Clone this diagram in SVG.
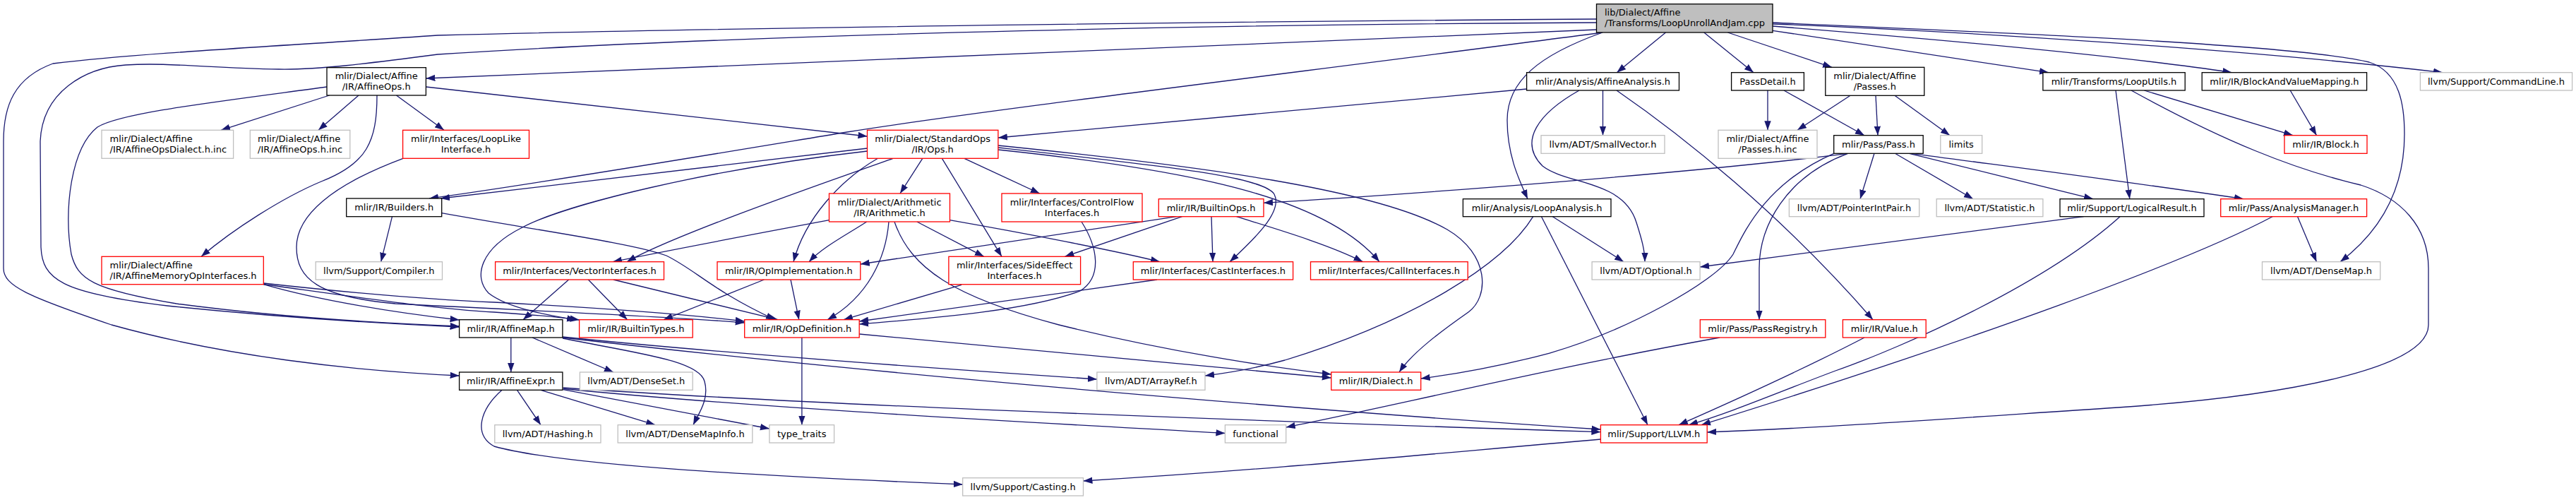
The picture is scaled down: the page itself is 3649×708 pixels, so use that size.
<svg xmlns="http://www.w3.org/2000/svg" width="3649" height="708" viewBox="0 0 3649 708">
<defs>
<marker id="a" markerUnits="userSpaceOnUse" markerWidth="14" markerHeight="10" refX="13" refY="5" orient="auto"><path d="M0,0.3L13,5L0,9.7z" fill="#191970"/></marker>
<style>
rect{stroke-width:1.3}
.b{fill:#fff;stroke:#000}
.r{fill:#fff;stroke:#ff0000}
.g{fill:#fff;stroke:#bfbfbf}
.root{fill:#bfbfbf;stroke:#000}
text{font-family:"DejaVu Sans","Liberation Sans",sans-serif;font-size:13px;fill:#000}
.c{text-anchor:middle}
#edges path{fill:none;stroke:#191970;stroke-width:1.3;marker-end:url(#a)}
</style>
</defs>
<rect width="3649" height="708" fill="#fff"/>
<g id="edges">
<path d="M2261.5,42 C1900,52 1300,78 603.4,111"/>
<path d="M2261.5,32 C1800,34 1100,46 620,77 C520,90 450,99 395,98 C300,97 240,88 178,92 C120,96 60,130 57,200 L58,350 C60,395 85,415 237,433 C420,452 560,459 650.6,463"/>
<path d="M2261.5,27 C1800,30 1100,38 620,50 C400,65 200,75 75,90 C20,110 5,150 5,200 L5,380 C5,405 40,420 158,460 C320,505 500,525 650.6,532"/>
<path d="M2270,46 C1900,95 1400,155 1200,187 C1000,220 750,262 608,281"/>
<path d="M2270,46 C2180,78 2135,115 2135,170 C2135,220 2152,255 2164,281.7"/>
<path d="M2359.5,46 L2290.3,102.7"/>
<path d="M2413.8,46 L2484,102.7"/>
<path d="M2447.4,46 L2595,95.3"/>
<path d="M2511,43.3 L2902,102.7"/>
<path d="M2511,37 C2700,52 3000,78 3161.4,102.7"/>
<path d="M2511,32 C2800,45 3250,62 3356,88 C3400,102 3406,150 3406,190 C3406,265 3375,325 3315,370.7"/>
<path d="M2511,34 C2800,45 3200,72 3460,102.7"/>
<path d="M466.6,135 L313,184.3"/>
<path d="M508,135 L451,184.3"/>
<path d="M561.5,135 L629,184.3"/>
<path d="M603.4,123 L1228.5,193"/>
<path d="M534,135 C534,200 520,232 455,257 C400,280 330,325 285,363.3"/>
<path d="M463,123 C300,145 170,160 138,180 C100,210 90,300 101,360 C110,395 130,410 250,430 C400,450 550,458 650.6,462"/>
<path d="M571,224.3 C470,262 420,305 420,350 C420,395 450,420 560,430 C750,440 950,448 1054.7,457"/>
<path d="M373.3,401 C500,415 600,424 700,428 C850,436 980,446 1054.7,455"/>
<path d="M373.3,402.5 C500,420 620,438 700,442 C760,446 800,450 820.6,453"/>
<path d="M373.3,402.7 C450,425 560,443 650.6,453"/>
<path d="M555.5,306.7 L539.7,370.7"/>
<path d="M625.7,301.7 C760,326 900,345 944,362 C985,382 1010,412 1098,452.7"/>
<path d="M1228.5,210 L624,281"/>
<path d="M1228.5,214 C1000,240 800,290 740,322 C680,352 670,392 692,415 C720,437 780,447 816,453"/>
<path d="M1265,224.3 C1150,265 950,335 888,370.7"/>
<path d="M1243.5,224.3 C1190,255 1140,310 1124,370.7"/>
<path d="M1306.8,224.3 L1275,274"/>
<path d="M1334.4,224.3 L1419,363.3"/>
<path d="M1366,224.3 L1472.8,274"/>
<path d="M1413.9,206 C1700,235 1950,268 2050,325 C2110,360 2110,420 2080,442 C2040,470 2000,500 1982,527"/>
<path d="M1413.9,212 C1700,242 1880,282 1954,370.7"/>
<path d="M1413.9,209 C1650,235 1790,250 1805,275 C1818,300 1775,340 1742,370.7"/>
<path d="M1174.5,311.7 C1050,335 960,352 868,370.7"/>
<path d="M1227.7,314 C1200,332 1165,350 1146,370.7"/>
<path d="M1259,314 C1255,365 1230,420 1172,452.7"/>
<path d="M1267,314 C1290,380 1350,420 1500,460 C1650,497 1800,520 1885.8,530"/>
<path d="M1298.9,314 L1393.8,363.3"/>
<path d="M1345.5,311.7 C1450,330 1580,355 1643,370.7"/>
<path d="M1532,314 C1555,350 1562,392 1530,412 C1450,442 1300,452 1217.2,459"/>
<path d="M1666.6,306.7 L1218.8,374"/>
<path d="M1674.5,306.7 L1508.4,363.3"/>
<path d="M1716,306.7 L1718,370.7"/>
<path d="M1751.6,306.7 C1800,322 1880,345 1930.5,370.7"/>
<path d="M2162.6,126 L1413.9,195"/>
<path d="M2270.5,128 L2270.5,191.7"/>
<path d="M2237,128 C2180,160 2150,200 2185,235 C2220,262 2300,255 2318,315 C2326,340 2330,355 2330,370.7"/>
<path d="M2290,128 C2380,190 2520,300 2653,452.7"/>
<path d="M2171.7,306.7 C2130,375 2000,455 1820,510 C1780,521 1740,528 1707,532"/>
<path d="M2183.5,306.7 L2334,601.7"/>
<path d="M2199.4,306.7 L2300,370.7"/>
<path d="M2504,128 L2504,184.3"/>
<path d="M2527,128 L2641,191.7"/>
<path d="M2621,135.3 L2546,184.3"/>
<path d="M2657,135.3 L2660,191.7"/>
<path d="M2684,135.3 L2762,191.7"/>
<path d="M2617.5,217.3 C2400,245 2000,275 1790,287.3"/>
<path d="M2597.7,217.3 C2500,260 2470,330 2455,360 C2430,400 2300,470 2195,500 C2120,520 2060,530 2012.7,536"/>
<path d="M2617.5,217.3 C2530,250 2492,320 2492,380 L2492,452.7"/>
<path d="M2655,217.3 L2635,281.7"/>
<path d="M2684.5,217.3 L2795,281.7"/>
<path d="M2704.6,217.3 L2965,281.7"/>
<path d="M2708.6,217.3 C2800,230 3000,255 3178,281.7"/>
<path d="M2997,128 L3016.8,281.7"/>
<path d="M3037.3,128 L3248,191.7"/>
<path d="M3019,128 C3150,200 3250,240 3344,262 C3400,280 3440,320 3440,380 L3440,460 C3440,520 3250,560 3000,577 C2800,590 2600,605 2418.2,612"/>
<path d="M3244.2,128 L3281.5,191.7"/>
<path d="M2951.6,306.7 L2408.1,378"/>
<path d="M3003,306.7 C2900,400 2700,490 2600,525 C2520,555 2450,585 2392,601.7"/>
<path d="M3254.6,306.7 L3281.5,370.7"/>
<path d="M3219,306.7 C3100,370 2800,480 2410,601.7"/>
<path d="M2641,478 C2560,520 2450,570 2378,601.7"/>
<path d="M805.6,396 L741,452.7"/>
<path d="M833.3,396 L888.6,452.7"/>
<path d="M868.9,396 L1102,452.7"/>
<path d="M1082.4,396 L940,452.7"/>
<path d="M1120,396 L1131.8,452.7"/>
<path d="M1362,403.3 L1195,452.7"/>
<path d="M1639,396 L1217.2,455"/>
<path d="M1135.9,478 L1135.9,601.7"/>
<path d="M1217.2,473 L1885.8,535"/>
<path d="M723.8,478 L723.8,527"/>
<path d="M754,478 L868.9,527"/>
<path d="M797,479 C900,500 990,510 998,540 C1005,565 990,585 982,601.7"/>
<path d="M797,477 C1000,498 1300,520 1553.9,537"/>
<path d="M797,478 C1200,525 1800,578 2267.4,608"/>
<path d="M732.5,552.3 L766,601.7"/>
<path d="M766,552.3 L928.2,601.7"/>
<path d="M797.7,551.7 L1089.9,607"/>
<path d="M797.7,550.5 C1100,580 1500,600 1735.4,613.5"/>
<path d="M797.7,549 C1200,577 1900,600 2267.4,611.7"/>
<path d="M711,552.3 C680,580 670,615 700,632 C800,660 1100,675 1363.7,686"/>
<path d="M2436,478 C2200,520 1950,580 1821.7,605"/>
<path d="M2267.4,622 C2000,645 1800,665 1534.5,681"/>
</g>
<g id="n-root"><rect class="root" x="2261.5" y="5.7" width="249.5" height="40.3"/><text x="2273" y="22.2">lib/Dialect/Affine</text><text x="2273" y="37.2">/Transforms/LoopUnrollAndJam.cpp</text></g>
<g id="n-affineops"><rect class="b" x="463" y="95.7" width="140.4" height="39.3"/><text class="c" x="533.2" y="112">mlir/Dialect/Affine</text><text class="c" x="533.2" y="127">/IR/AffineOps.h</text></g>
<g id="n-affineopsdialectinc"><rect class="g" x="144" y="184.3" width="186.6" height="40"/><text x="155.5" y="200.8">mlir/Dialect/Affine</text><text x="155.5" y="215.8">/IR/AffineOpsDialect.h.inc</text></g>
<g id="n-affineopsinc"><rect class="g" x="354.3" y="184.3" width="141.5" height="40"/><text x="365" y="200.8">mlir/Dialect/Affine</text><text x="365" y="215.8">/IR/AffineOps.h.inc</text></g>
<g id="n-looplike"><rect class="r" x="570.6" y="184.3" width="178.9" height="40"/><text class="c" x="660" y="200.8">mlir/Interfaces/LoopLike</text><text class="c" x="660" y="215.8">Interface.h</text></g>
<g id="n-ops"><rect class="r" x="1228.5" y="184.3" width="185.4" height="40"/><text class="c" x="1321.2" y="200.8">mlir/Dialect/StandardOps</text><text class="c" x="1321.2" y="215.8">/IR/Ops.h</text></g>
<g id="n-builders"><rect class="b" x="490.7" y="281" width="135" height="25.7"/><text class="c" x="558.2" y="298">mlir/IR/Builders.h</text></g>
<g id="n-arith"><rect class="r" x="1174.5" y="274" width="171" height="40"/><text class="c" x="1260" y="290.5">mlir/Dialect/Arithmetic</text><text class="c" x="1260" y="305.5">/IR/Arithmetic.h</text></g>
<g id="n-controlflow"><rect class="r" x="1419" y="274" width="199" height="40"/><text class="c" x="1518.5" y="290.5">mlir/Interfaces/ControlFlow</text><text class="c" x="1518.5" y="305.5">Interfaces.h</text></g>
<g id="n-builtinops"><rect class="r" x="1641.3" y="281.7" width="148.7" height="25"/><text class="c" x="1715.6" y="298.5">mlir/IR/BuiltinOps.h</text></g>
<g id="n-affineanalysis"><rect class="b" x="2162.6" y="102.7" width="215.9" height="25.3"/><text class="c" x="2270.5" y="119.7">mlir/Analysis/AffineAnalysis.h</text></g>
<g id="n-smallvector"><rect class="g" x="2183" y="191.7" width="175" height="25.6"/><text class="c" x="2270.5" y="208.7">llvm/ADT/SmallVector.h</text></g>
<g id="n-loopanalysis"><rect class="b" x="2072.4" y="281.7" width="209.6" height="25"/><text class="c" x="2177.2" y="298.5">mlir/Analysis/LoopAnalysis.h</text></g>
<g id="n-passdetail"><rect class="b" x="2452.6" y="102.7" width="102.8" height="25.3"/><text class="c" x="2504" y="119.7">PassDetail.h</text></g>
<g id="n-affinepasses"><rect class="b" x="2585.8" y="95.3" width="140" height="40"/><text class="c" x="2655.8" y="111.8">mlir/Dialect/Affine</text><text class="c" x="2655.8" y="126.8">/Passes.h</text></g>
<g id="n-passesinc"><rect class="g" x="2434" y="184.3" width="140" height="40"/><text class="c" x="2504" y="200.8">mlir/Dialect/Affine</text><text class="c" x="2504" y="215.8">/Passes.h.inc</text></g>
<g id="n-pass"><rect class="b" x="2597.7" y="191.7" width="126.5" height="25.6"/><text class="c" x="2661" y="208.7">mlir/Pass/Pass.h</text></g>
<g id="n-limits"><rect class="g" x="2748.8" y="191.7" width="58.9" height="25.6"/><text class="c" x="2778.2" y="208.7">limits</text></g>
<g id="n-looputils"><rect class="b" x="2893.9" y="102.7" width="201.3" height="25.3"/><text class="c" x="2994.5" y="119.7">mlir/Transforms/LoopUtils.h</text></g>
<g id="n-pointerintpair"><rect class="g" x="2534.4" y="281.7" width="184.3" height="25"/><text class="c" x="2626.5" y="298.5">llvm/ADT/PointerIntPair.h</text></g>
<g id="n-statistic"><rect class="g" x="2743.2" y="281.7" width="150.7" height="25"/><text class="c" x="2818.5" y="298.5">llvm/ADT/Statistic.h</text></g>
<g id="n-logicalresult"><rect class="b" x="2918" y="281.7" width="204" height="25"/><text class="c" x="3020" y="298.5">mlir/Support/LogicalResult.h</text></g>
<g id="n-bavm"><rect class="b" x="3119.2" y="102.7" width="233.4" height="25.3"/><text class="c" x="3235.9" y="119.7">mlir/IR/BlockAndValueMapping.h</text></g>
<g id="n-commandline"><rect class="g" x="3428.4" y="102.7" width="215.2" height="25.3"/><text class="c" x="3536" y="119.7">llvm/Support/CommandLine.h</text></g>
<g id="n-block"><rect class="r" x="3236" y="191.7" width="117" height="25.6"/><text class="c" x="3294.5" y="208.7">mlir/IR/Block.h</text></g>
<g id="n-analysismanager"><rect class="r" x="3145.7" y="281.7" width="206.9" height="25"/><text class="c" x="3249.1" y="298.5">mlir/Pass/AnalysisManager.h</text></g>
<g id="n-densemap"><rect class="g" x="3204.5" y="370.7" width="167.2" height="25.3"/><text class="c" x="3288.1" y="387.7">llvm/ADT/DenseMap.h</text></g>
<g id="n-affinememop"><rect class="r" x="144" y="363.3" width="229.3" height="39.4"/><text x="155.5" y="379.8">mlir/Dialect/Affine</text><text x="155.5" y="394.8">/IR/AffineMemoryOpInterfaces.h</text></g>
<g id="n-compiler"><rect class="g" x="447.2" y="370.7" width="179.3" height="25.3"/><text class="c" x="536.8" y="387.7">llvm/Support/Compiler.h</text></g>
<g id="n-vectorinterfaces"><rect class="r" x="701.6" y="370.7" width="238.9" height="25.3"/><text class="c" x="821" y="387.7">mlir/Interfaces/VectorInterfaces.h</text></g>
<g id="n-opimpl"><rect class="r" x="1016" y="370.7" width="202.8" height="25.3"/><text class="c" x="1117.4" y="387.7">mlir/IR/OpImplementation.h</text></g>
<g id="n-affinemap"><rect class="b" x="650.6" y="452.7" width="146.3" height="25.3"/><text class="c" x="723.7" y="469.7">mlir/IR/AffineMap.h</text></g>
<g id="n-builtintypes"><rect class="r" x="820.6" y="452.7" width="160.6" height="25.3"/><text class="c" x="900.9" y="469.7">mlir/IR/BuiltinTypes.h</text></g>
<g id="n-opdefinition"><rect class="r" x="1054.7" y="452.7" width="162.5" height="25.3"/><text class="c" x="1136" y="469.7">mlir/IR/OpDefinition.h</text></g>
<g id="n-affineexpr"><rect class="b" x="650.6" y="527" width="146.3" height="25.3"/><text class="c" x="723.7" y="544">mlir/IR/AffineExpr.h</text></g>
<g id="n-denseset"><rect class="g" x="821.4" y="527" width="159.8" height="25.3"/><text class="c" x="901.3" y="544">llvm/ADT/DenseSet.h</text></g>
<g id="n-hashing"><rect class="g" x="700.8" y="601.7" width="150.2" height="25.3"/><text class="c" x="775.9" y="618.7">llvm/ADT/Hashing.h</text></g>
<g id="n-densemapinfo"><rect class="g" x="875.2" y="601.7" width="190.6" height="25.3"/><text class="c" x="970.5" y="618.7">llvm/ADT/DenseMapInfo.h</text></g>
<g id="n-typetraits"><rect class="g" x="1089.9" y="601.7" width="91.7" height="25.3"/><text class="c" x="1135.7" y="618.7">type_traits</text></g>
<g id="n-sideeffect"><rect class="r" x="1343.9" y="363.3" width="186.7" height="39.4"/><text class="c" x="1437.2" y="379.8">mlir/Interfaces/SideEffect</text><text class="c" x="1437.2" y="394.8">Interfaces.h</text></g>
<g id="n-castinterfaces"><rect class="r" x="1605.3" y="370.7" width="226.3" height="25.3"/><text class="c" x="1718.4" y="387.7">mlir/Interfaces/CastInterfaces.h</text></g>
<g id="n-arrayref"><rect class="g" x="1553.9" y="527" width="153.1" height="25.3"/><text class="c" x="1630.4" y="544">llvm/ADT/ArrayRef.h</text></g>
<g id="n-functional"><rect class="g" x="1735.4" y="601.7" width="86.3" height="25.3"/><text class="c" x="1778.5" y="618.7">functional</text></g>
<g id="n-casting"><rect class="g" x="1363.7" y="676.7" width="170.8" height="25.3"/><text class="c" x="1449.1" y="693.7">llvm/Support/Casting.h</text></g>
<g id="n-callinterfaces"><rect class="r" x="1856.5" y="370.7" width="222.7" height="25.3"/><text class="c" x="1967.8" y="387.7">mlir/Interfaces/CallInterfaces.h</text></g>
<g id="n-optional"><rect class="g" x="2255.1" y="370.7" width="153" height="25.3"/><text class="c" x="2331.6" y="387.7">llvm/ADT/Optional.h</text></g>
<g id="n-dialect"><rect class="r" x="1885.8" y="527" width="126.9" height="25.3"/><text class="c" x="1949.2" y="544">mlir/IR/Dialect.h</text></g>
<g id="n-llvm"><rect class="r" x="2267.4" y="601.7" width="150.8" height="25.3"/><text class="c" x="2342.8" y="618.7">mlir/Support/LLVM.h</text></g>
<g id="n-passregistry"><rect class="r" x="2408.3" y="452.7" width="177.5" height="25.3"/><text class="c" x="2497" y="469.7">mlir/Pass/PassRegistry.h</text></g>
<g id="n-value"><rect class="r" x="2610.4" y="452.7" width="117.8" height="25.3"/><text class="c" x="2669.3" y="469.7">mlir/IR/Value.h</text></g>
</svg>
